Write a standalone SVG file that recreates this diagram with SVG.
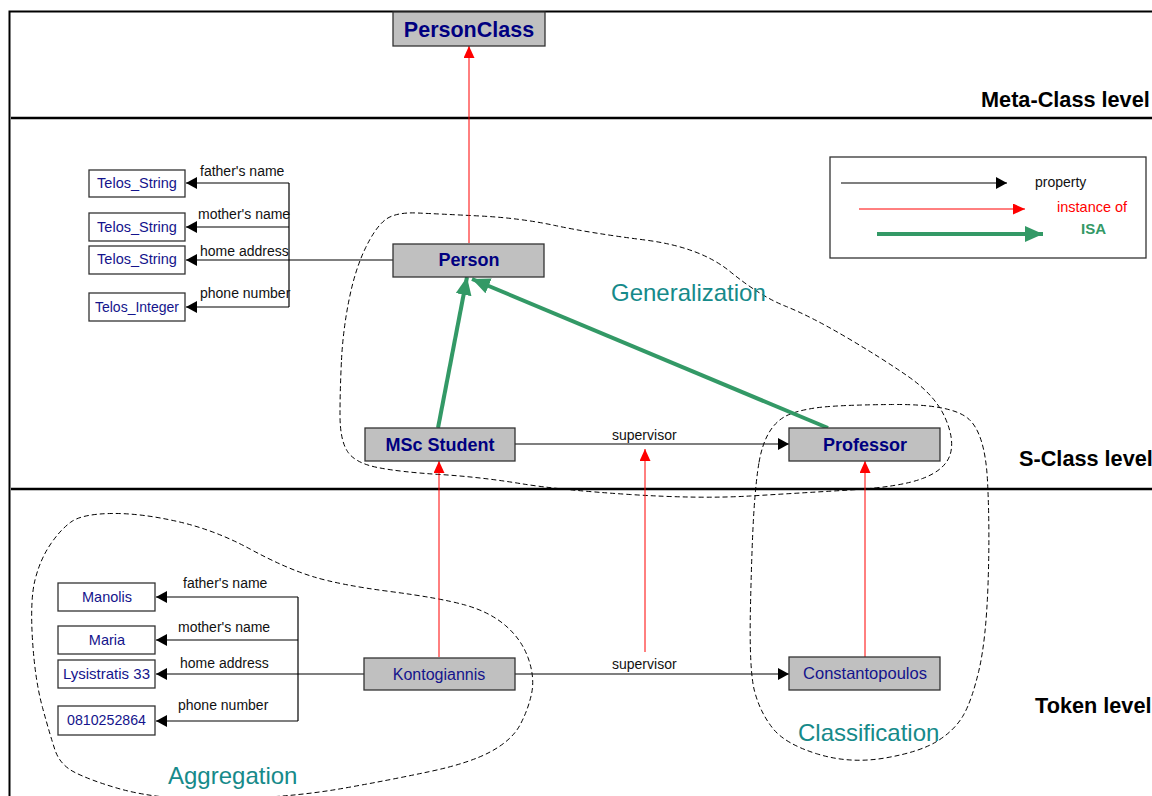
<svg xmlns="http://www.w3.org/2000/svg" width="1152" height="796" viewBox="0 0 1152 796">
<style>
.frame{fill:none;stroke:#000;stroke-width:2}
.sep{stroke:#000;stroke-width:2.5}
.cls{fill:#c0c0c0;stroke:#333;stroke-width:1.3}
.val{fill:#fff;stroke:#333;stroke-width:1.3}
.bt{font-family:"Liberation Sans",Arial,sans-serif;font-weight:bold;fill:#000080;text-anchor:middle}
.nt{font-family:"Liberation Sans",Arial,sans-serif;fill:#14148c;text-anchor:middle}
.lbl{font-family:"Liberation Sans",Arial,sans-serif;font-size:14px;fill:#111}
.lvl{font-family:"Liberation Sans",Arial,sans-serif;font-weight:bold;font-size:21.7px;fill:#000}
.grp{font-family:"Liberation Sans",Arial,sans-serif;font-size:24px;fill:#168a8a}
.blob{fill:none;stroke:#000;stroke-width:1;stroke-dasharray:5,3}
.prop{fill:none;stroke:#000;stroke-width:1.2}
.inst{fill:none;stroke:#ff0000;stroke-width:1}
.isa{fill:none;stroke:#339966;stroke-width:4}
</style>
<defs>
<marker id="ab" markerUnits="userSpaceOnUse" markerWidth="11" markerHeight="12" refX="11" refY="6" orient="auto"><path d="M0,0 L11,6 L0,12 z" fill="#000"/></marker>
<marker id="ar" markerUnits="userSpaceOnUse" markerWidth="12" markerHeight="11" refX="12" refY="5.5" orient="auto"><path d="M0,0 L12,5.5 L0,11 z" fill="#ff0000"/></marker>
<marker id="ag" markerUnits="userSpaceOnUse" markerWidth="18" markerHeight="16" refX="18" refY="8" orient="auto"><path d="M0,0 L18,8 L0,16 z" fill="#339966"/></marker>
</defs>

<rect class="frame" x="9.5" y="11.5" width="1160" height="800"/>
<line class="sep" x1="11" y1="118" x2="1152" y2="118"/>
<line class="sep" x1="11" y1="489" x2="1152" y2="489"/>

<text class="lvl" x="981" y="107">Meta-Class level</text>
<text class="lvl" x="1019" y="466">S-Class level</text>
<text class="lvl" x="1035" y="713">Token level</text>

<g id="blobs">
<path class="blob" d="M341.5,360 Q343,330 349,300 Q355,270 365,249 Q375,228 385,220 Q395,212 417.5,213 Q440,214 480,216 Q520,218 555,225.5 Q590,233 645,240 Q700,247 730,271.5 Q760,296 785,306 Q810,316 845,336.5 Q880,357 907.5,376 Q935,395 945,417.5 Q955,440 950,455 Q945,470 922.5,478.5 Q900,487 850,490 Q800,493 750,496 Q700,499 630,494.5 Q560,490 520,483.5 Q480,477 440,474.5 Q400,472 377.5,467.5 Q355,463 347.5,451.5 Q340,440 340,415 Q340,390 341.5,360 Z"/>
<path class="blob" d="M759,462.5 Q762,445 768.5,433.5 Q775,422 785,416.5 Q795,411 815,408 Q835,405 892.5,404.5 Q950,404 967.5,418 Q985,432 987.5,481 Q990,530 988,585 Q986,640 979,670 Q972,700 963.5,715 Q955,730 937.5,741 Q920,752 885,758 Q850,764 817.5,754 Q785,744 772.5,728 Q760,712 754.5,691 Q749,670 750.5,605 Q752,540 754,510 Q756,480 759,462.5 Z"/>
<path class="blob" d="M32.5,640 Q30,600 35,580 Q40,560 50,545 Q60,530 71,522 Q82,514 111,513.5 Q140,513 177.5,521.5 Q215,530 250,549 Q285,568 312.5,576.5 Q340,585 390,591.5 Q440,598 465,605 Q490,612 506,626 Q522,640 528.5,659 Q535,678 531.5,694 Q528,710 520,725 Q512,740 491,751.5 Q470,763 430,771.5 Q390,780 345,788 Q300,796 250,798 Q200,800 170,797.5 Q140,795 115,787.5 Q90,780 75,772.5 Q60,765 55,750 Q50,735 42.5,707.5 Q35,680 32.5,640 Z"/>
<text class="grp" x="611" y="301">Generalization</text>
<text class="grp" x="798" y="741">Classification</text>
<text class="grp" x="168" y="784">Aggregation</text>
</g>

<g id="connectors">
<line class="inst" x1="469" y1="243" x2="469" y2="46" marker-end="url(#ar)"/>
<line class="inst" x1="439" y1="657" x2="439" y2="461" marker-end="url(#ar)"/>
<line class="inst" x1="645" y1="652" x2="645" y2="449" marker-end="url(#ar)"/>
<line class="inst" x1="865" y1="657" x2="865" y2="461" marker-end="url(#ar)"/>
<line class="isa" x1="438" y1="428" x2="467" y2="277" marker-end="url(#ag)"/>
<line class="isa" x1="828" y1="428" x2="472" y2="279" marker-end="url(#ag)"/>
<line class="prop" x1="289" y1="183" x2="289" y2="307"/>
<line class="prop" x1="289" y1="183" x2="186" y2="183" marker-end="url(#ab)"/>
<line class="prop" x1="289" y1="227" x2="186" y2="227" marker-end="url(#ab)"/>
<line class="prop" x1="393" y1="260" x2="186" y2="260" marker-end="url(#ab)"/>
<line class="prop" x1="289" y1="307" x2="186" y2="307" marker-end="url(#ab)"/>
<line class="prop" x1="515" y1="444" x2="789" y2="444" marker-end="url(#ab)"/>
<line class="prop" x1="298" y1="597" x2="298" y2="721"/>
<line class="prop" x1="298" y1="597" x2="156" y2="597" marker-end="url(#ab)"/>
<line class="prop" x1="298" y1="640" x2="156" y2="640" marker-end="url(#ab)"/>
<line class="prop" x1="364" y1="674" x2="156" y2="674" marker-end="url(#ab)"/>
<line class="prop" x1="298" y1="721" x2="156" y2="721" marker-end="url(#ab)"/>
<line class="prop" x1="515" y1="674" x2="789" y2="674" marker-end="url(#ab)"/>
<text class="lbl" x="200" y="176">father's name</text>
<text class="lbl" x="198" y="219">mother's name</text>
<text class="lbl" x="200" y="256">home address</text>
<text class="lbl" x="200" y="298">phone number</text>
<text class="lbl" x="612" y="440">supervisor</text>
<text class="lbl" x="183" y="588">father's name</text>
<text class="lbl" x="178" y="632">mother's name</text>
<text class="lbl" x="180" y="668">home address</text>
<text class="lbl" x="178" y="710">phone number</text>
<text class="lbl" x="612" y="669">supervisor</text>
</g>

<g id="PersonClass"><rect class="cls" x="393" y="12" width="152" height="34"/><text class="bt" x="469" y="37" font-size="21.5">PersonClass</text></g>
<g id="Person"><rect class="cls" x="393" y="244" width="151" height="33"/><text class="bt" x="469" y="266" font-size="18">Person</text></g>
<g id="MScStudent"><rect class="cls" x="365" y="428" width="150" height="33"/><text class="bt" x="440" y="451" font-size="18">MSc Student</text></g>
<g id="Professor"><rect class="cls" x="789" y="428" width="151" height="33"/><text class="bt" x="865" y="451" font-size="18">Professor</text></g>
<g id="Kontogiannis"><rect class="cls" x="364" y="658" width="151" height="32"/><text class="nt" x="439" y="680" font-size="16">Kontogiannis</text></g>
<g id="Constantopoulos"><rect class="cls" x="789" y="657" width="151" height="33"/><text class="nt" x="865" y="679" font-size="16.5">Constantopoulos</text></g>

<g id="TelosString1"><rect class="val" x="89" y="170" width="96" height="27"/><text class="nt" x="137" y="188" font-size="14.5">Telos_String</text></g>
<g id="TelosString2"><rect class="val" x="89" y="213" width="96" height="28"/><text class="nt" x="137" y="232" font-size="14.5">Telos_String</text></g>
<g id="TelosString3"><rect class="val" x="89" y="246" width="96" height="28"/><text class="nt" x="137" y="264" font-size="14.5">Telos_String</text></g>
<g id="TelosInteger"><rect class="val" x="89" y="293" width="96" height="28"/><text class="nt" x="137" y="312" font-size="14">Telos_Integer</text></g>

<g id="Manolis"><rect class="val" x="58" y="583" width="97" height="28"/><text class="nt" x="107" y="602" font-size="14.5">Manolis</text></g>
<g id="Maria"><rect class="val" x="58" y="626" width="97" height="28"/><text class="nt" x="107" y="645" font-size="14.5">Maria</text></g>
<g id="Lysistratis"><rect class="val" x="58" y="660" width="97" height="28"/><text class="nt" x="106.5" y="679" font-size="15">Lysistratis 33</text></g>
<g id="Phone"><rect class="val" x="58" y="706" width="97" height="29"/><text class="nt" x="106.5" y="725" font-size="14.2">0810252864</text></g>

<g id="legend">
<rect x="830" y="157" width="316" height="101" fill="#fff" stroke="#333" stroke-width="1.3"/>
<line class="prop" x1="841" y1="183" x2="1007" y2="183" marker-end="url(#ab)"/>
<line class="inst" x1="859" y1="209" x2="1025" y2="209" marker-end="url(#ar)"/>
<line class="isa" x1="877" y1="234" x2="1043" y2="234" marker-end="url(#ag)"/>
<text class="lbl" x="1035" y="187">property</text>
<text class="lbl" x="1057" y="212" style="fill:#ff0000;font-size:14.5px">instance of</text>
<text x="1081" y="234" style="font-family:'Liberation Sans',Arial,sans-serif;font-weight:bold;font-size:15px;fill:#339966">ISA</text>
</g>
</svg>
